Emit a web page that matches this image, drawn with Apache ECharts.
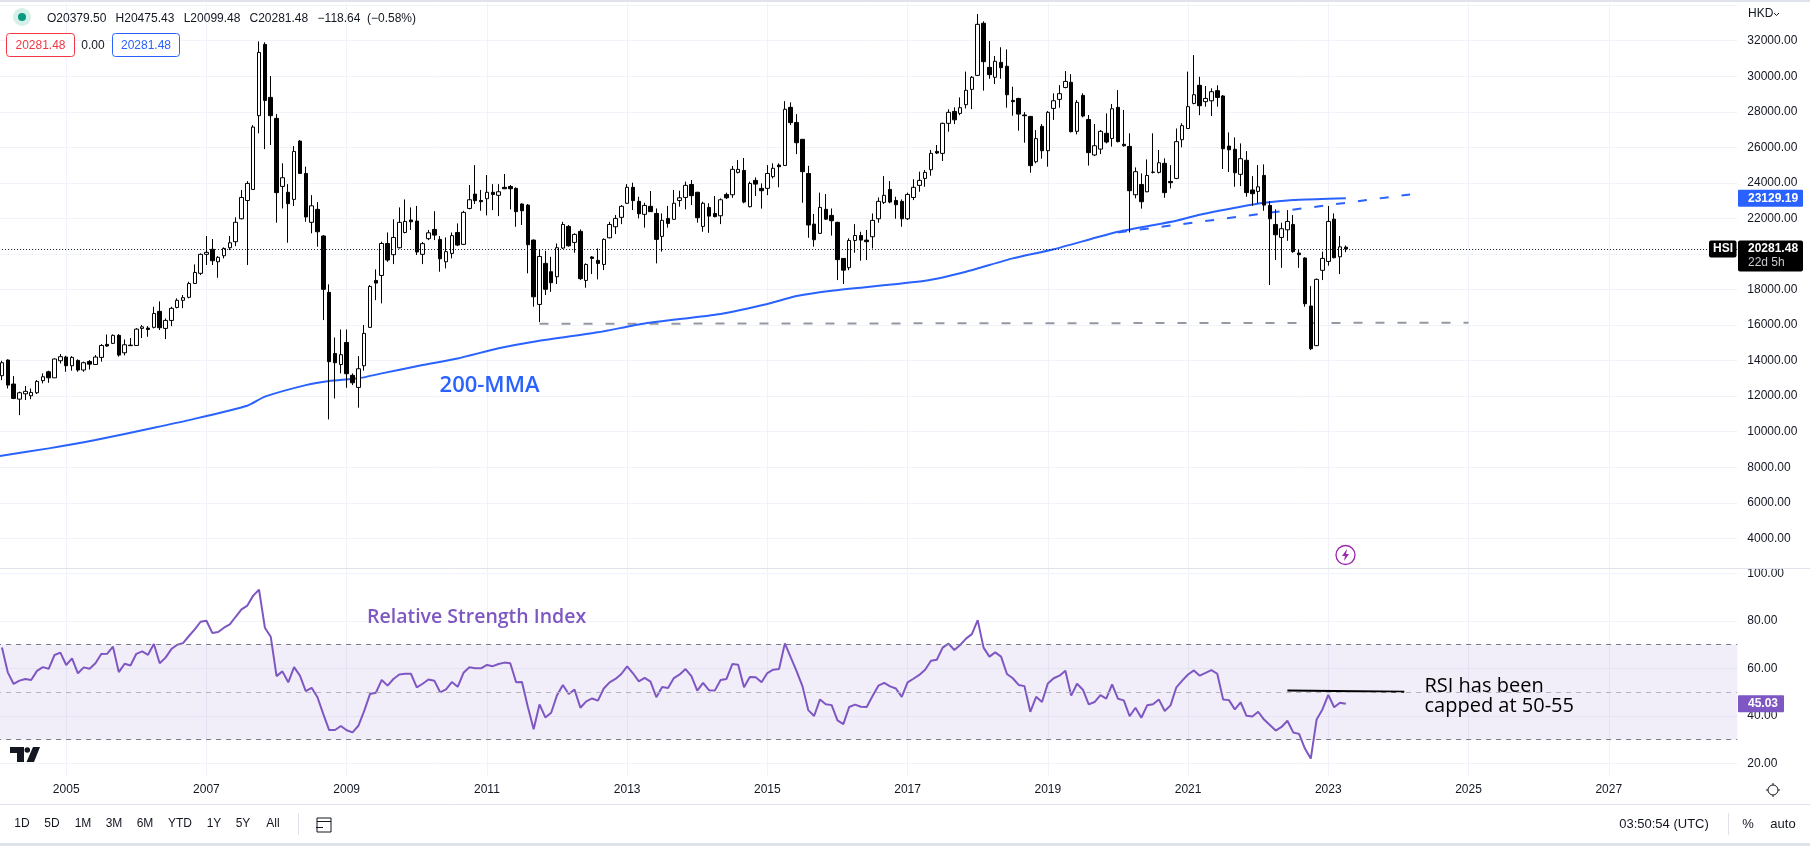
<!DOCTYPE html>
<html>
<head>
<meta charset="utf-8">
<title>HSI monthly</title>
<script src="https://cdn.jsdelivr.net/npm/echarts@6/dist/echarts.min.js"></script>
<style>
    html, body { margin: 0; padding: 0; background: #fff; }
    #main { width: 1810px; height: 846px; }
</style>
</head>
<body>
<div id="main"></div>
<script>
    // monthly candles, Feb 2004 to Apr 2023
    var opens = [
        13150,14030,12680,11830,12130,12020,12190,12870,13370,13030,
        13990,14200,13710,14010,13470,13950,13780,14180,14910,14970,
        15420,14440,14870,14850,15810,15830,15870,16770,15810,16260,
        16990,17390,17560,18340,18910,19980,20260,19560,19900,20350,
        20690,21980,23010,23630,27780,31790,28810,27630,23800,23470,
        23070,26350,24530,21780,22510,21010,17840,14400,13780,15020,
        13170,12490,13710,15870,18510,18790,20590,19960,20350,21210,
        21910,21850,19980,20860,21380,20820,19560,20030,21210,20540,
        22560,23370,23010,23110,23470,23300,23750,23800,23690,22810,
        22750,20780,17160,19470,19000,18720,20330,21550,20650,21270,
        18510,19830,19640,19410,20910,21530,22060,22850,23750,22960,
        22230,22680,22280,20990,22000,21950,23010,23180,23910,23470,
        21550,22620,22280,22150,23350,23330,24590,24700,22660,24140,
        23690,23690,24350,25000,24980,28250,27400,26450,24530,21680,
        21160,22510,22170,21780,19750,19230,20760,21040,20780,20970,
        21980,22900,23630,23010,22960,21980,23180,23860,24250,24740,
        25770,25660,27350,28020,27910,28400,29260,30050,32980,30500,
        29940,30780,30560,28640,28750,27820,27740,25190,27180,25810,
        28190,28700,29370,29660,26900,28920,27570,25570,25900,26790,
        26500,28250,26170,26050,23330,23910,23500,24590,24590,25100,
        24080,24250,26430,27060,28470,29490,28570,28620,29190,28890,
        26070,25890,24480,25270,23600,23520,24420,22730,21660,20930,
        21360,21660,20050,19770,17070,14840,19080,19580,21960,19840,
        20379.5
    ];
    var closes = [
        13880,12620,11870,12190,12270,12210,12830,13090,13030,14090,
        14220,13710,14180,13470,13880,13800,14200,14850,14820,15420,
        14310,14890,14840,15770,15900,15750,16650,15850,16260,16940,
        17390,17540,18340,18960,19980,20090,19620,19810,20310,20630,
        21780,23180,23970,27140,31340,28640,27780,23450,24290,22830,
        25770,24530,22080,22710,21250,18010,13940,13880,14330,13260,
        12750,13540,15530,18170,18360,20590,19660,20930,21780,21830,
        21810,20110,20580,21190,21060,19730,20130,21030,20500,22340,
        23050,23000,22940,23470,23350,23500,23670,23670,22380,22430,
        20520,17590,19860,18010,18380,20350,21660,20460,21100,18610,
        19410,19750,19470,20820,21660,22000,22680,23750,23000,22260,
        22730,22380,20820,21890,21720,22850,23160,23860,23280,22040,
        22850,22130,22100,23050,23160,24760,24760,22920,23970,23930,
        23560,24530,24820,24910,28140,27390,26260,24630,21630,20800,
        22620,21960,21870,19680,19090,20760,21040,20780,20690,21890,
        22960,23300,22920,22770,21980,23350,23750,24140,24590,25660,
        25680,27350,27970,27550,28230,29210,29940,32920,30820,30090,
        30840,30480,28960,28570,27870,27780,24970,26490,25810,27970,
        28620,29020,29710,26880,28530,27760,25700,26090,26900,26300,
        28170,26320,26090,23560,24630,22940,24420,24610,25130,23450,
        24010,26320,27220,28290,28960,28340,28750,29130,28810,25920,
        25860,24570,25360,23450,23390,23780,22750,21980,21080,21420,
        21830,20130,19960,17200,14670,18570,19750,21830,19790,20400,
        20281.48
    ];
    var highs = [
        13990,14070,13130,12250,12570,12430,12900,13280,13430,14120,
        14370,14270,14250,14070,13940,14030,14310,14930,15470,15470,
        15490,15190,15270,15830,16000,15940,17030,17330,16370,17030,
        17500,17690,18440,19410,20030,21010,20840,19880,20370,21010,
        22060,23600,24100,27250,31960,31910,30010,27870,25100,23930,
        26070,26410,24910,23310,22920,21060,18290,15300,15750,15750,
        13280,14250,16000,18250,19130,20690,21210,21950,22620,23070,
        22620,22700,20670,21350,22410,21010,20930,21210,21720,22430,
        23880,25000,23600,24440,23930,23930,24500,23880,23750,22850,
        22810,20820,20260,20180,19840,20590,21810,21630,21160,21380,
        19470,19880,20310,20880,21810,22190,22750,23930,24010,23220,
        22880,23540,22560,22280,22700,23600,23560,24070,24160,23500,
        22940,22850,23260,23130,23450,24950,25280,25400,24070,24310,
        23970,25000,25100,25100,28600,28530,27870,26470,24960,22250,
        23450,23370,22560,21810,19760,20880,21680,21250,21350,22280,
        23180,24380,24100,23220,23070,23450,24200,24630,24720,25850,
        26130,27390,28140,28250,28810,30260,30010,33500,33090,31980,
        31140,31630,31510,29410,28790,27980,27760,26970,27310,28040,
        29040,29500,30290,30120,28660,29040,27820,27310,26970,27910,
        28440,29220,28100,26790,24870,24530,25320,26790,25850,25380,
        25000,27060,27350,30260,31190,29970,29450,29320,29490,28940,
        26840,26560,26220,25790,24380,25000,25040,22980,22510,21760,
        22470,22190,20260,19810,18190,18620,20130,22700,22280,21010,
        20475.43
    ];
    var lows = [
        12900,12430,11830,10930,11780,11830,12120,12720,12750,13030,
        13840,13370,13430,13370,13370,13500,13750,13940,14780,14930,
        14220,14290,14830,14840,15270,15340,15810,15720,15210,15940,
        16940,16950,17500,18310,18810,19380,19380,18660,19750,20220,
        20440,21950,19380,23600,26790,25900,26130,21760,22560,20630,
        22700,24530,21810,21160,20410,16280,10690,11870,13280,12470,
        12620,11350,13430,15850,17400,17220,19560,19430,20310,21160,
        21350,19940,19430,20780,20780,19000,19190,19750,20440,20500,
        22510,22810,22430,22170,22470,22130,23650,22510,21530,21630,
        18910,17030,16170,17690,17870,18310,20280,20410,20070,18530,
        18100,18870,18570,19090,20880,21120,21680,22810,22470,22000,
        21480,22370,19470,20130,21480,21910,22660,22510,22750,21760,
        21250,21190,22060,21680,23090,23160,24530,22850,22620,23260,
        22550,23310,24250,23750,24960,27250,25620,22880,20910,20410,
        21120,21910,21030,18530,18310,19090,20070,19620,19660,20310,
        21760,22810,22850,21980,21530,21910,23030,23500,23780,24400,
        25620,25230,26880,27310,27810,28190,28150,30010,29190,29860,
        29560,29860,28230,27780,26940,26260,24570,25100,25360,24910,
        27540,28230,29320,26840,26730,27690,24970,25510,25620,26220,
        26040,26280,26040,21210,23130,22550,23470,24530,24530,23160,
        23690,24210,26000,27030,28420,27810,28290,27760,28290,24780,
        24610,23780,23820,23220,22710,22850,22430,18250,19660,19220,
        20740,20070,19220,17030,14590,14820,18530,19340,19750,18870,
        20099.48
    ];
    var rsiValues = [
        68.8,58.3,53.4,54.8,55.5,55.1,58.9,60.5,59.8,65.6,
        66.6,61.4,64.2,57.9,60.4,59.8,62.1,66.0,66.1,69.1,
        58.4,61.9,61.2,66.1,67.1,65.7,70.2,62.1,64.5,68.1,
        69.9,70.6,73.6,76.4,79.6,80.0,74.9,75.3,77.1,78.5,
        81.7,84.8,86.4,90.6,93.1,77.1,73.3,56.7,58.7,54.1,
        60.5,56.9,50.4,51.8,47.8,40.7,34.0,34.0,35.7,33.9,
        33.0,35.8,42.1,49.2,49.7,55.1,52.7,55.5,57.4,57.7,
        57.7,52.0,53.5,55.3,54.8,49.9,51.1,54.2,52.2,58.1,
        60.4,60.0,60.0,61.4,60.9,61.8,62.4,62.1,54.1,54.2,
        43.8,34.3,44.8,39.3,41.3,48.7,53.0,49.2,51.0,43.4,
        46.1,47.3,46.4,51.5,54.1,55.5,57.6,60.8,57.9,54.5,
        56.0,54.4,47.8,52.1,51.7,55.9,57.4,59.7,56.7,50.6,
        53.9,50.8,50.6,55.1,55.5,61.8,61.5,52.0,56.3,56.2,
        54.1,58.0,59.4,59.7,70.5,64.6,58.8,52.5,42.4,39.9,
        46.9,44.9,44.5,38.1,36.5,43.7,44.7,43.8,43.7,48.3,
        52.7,53.9,52.4,51.5,48.0,54.1,55.6,57.2,59.4,63.2,
        63.6,68.7,70.4,67.7,69.8,72.5,74.4,80.3,68.7,64.9,
        66.7,64.9,57.6,55.8,53.0,52.5,41.7,48.0,45.8,53.6,
        55.8,56.9,59.0,48.5,53.5,51.0,44.8,45.8,48.7,47.2,
        53.2,47.2,46.5,39.8,43.4,39.2,44.4,44.9,46.9,42.0,
        44.4,52.0,54.8,57.4,59.1,56.9,58.1,59.2,57.7,46.9,
        46.6,42.7,45.7,40.0,39.7,41.7,38.4,36.1,33.8,35.3,
        37.9,33.0,32.4,26.2,22.0,38.4,42.7,48.8,43.6,45.5,
        45.03
    ];
    // 200 month moving average, read at the points where the curve bends
    var maMonths = [
        '2004-01','2004-10','2005-06','2006-04','2006-10','2007-08','2007-11','2008-06',
        '2008-10','2009-03','2009-07','2010-02','2010-08','2011-03','2011-09','2012-08',
        '2013-04','2014-05','2015-01','2015-06','2015-12','2017-04','2017-11','2018-07',
        '2019-02','2020-01','2020-11','2021-03','2021-10','2022-02','2022-07','2023-01','2023-04'
    ];
    var maValues = [
        8600,9060,9530,10220,10650,11460,11970,12620,
        12850,13000,13280,13750,14120,14690,15060,15590,
        16090,16620,17180,17630,17930,18490,19000,19750,
        20260,21250,21870,22210,22660,22880,23030,23100,23129.19
    ];
    var supportMonths = ['2011-10', '2025-01'];
    var supportValues = [16070, 16130];
    var trendMonths = ['2020-01', '2024-03'];
    var trendValues = [21210, 23350];
    var capMonths = ['2022-06', '2024-02'];
    var capValues = [50.7, 50.1];

    var lastClose = 20281.48;
    var lastMa = 23129.19;
    var lastRsi = 45.03;

    // time axis runs Jan 2004 to Nov 2028, the empty months leave the space on the right
    var months = [];
    for (var y = 2004; y <= 2028; y++) {
        for (var m = 1; m <= 12; m++) {
            if (y == 2028 && m > 11) break;
            months.push(y + '-' + (m < 10 ? '0' + m : m));
        }
    }
    var candleRows = [['-', '-', '-', '-']];
    opens.forEach(function (o, i) {
        candleRows.push([o, closes[i], lows[i], highs[i]]);
    });
    function pairs(xs, ys) {
        return xs.map(function (x, i) { return [x, ys[i]]; });
    }
    function isYearTick(index, value) {
        return value.slice(5) == '01' && parseInt(value) % 2 == 1;
    }

    var fontName = '"Liberation Sans", Arial, sans-serif';
    var textColor = '#131722';
    var gridColor = '#f0f3fa';
    var blue = '#2962ff';
    var purple = '#7e57c2';

    var chart = echarts.init(document.getElementById('main'));
    var gridLeft = -3.9, gridWidth = 1741.2;

    chart.setOption({
        animation: false,
        backgroundColor: '#fff',
        textStyle: { fontFamily: fontName },
        grid: [
            { left: gridLeft, width: gridWidth, top: 5.16, height: 533.14, outerBoundsMode: 'none' },
            { left: gridLeft, width: gridWidth, top: 573.3, height: 190, outerBoundsMode: 'none' },
            { left: gridLeft, width: gridWidth, top: 3, height: 773, outerBoundsMode: 'none' }
        ],
        xAxis: [
            { type: 'category', gridIndex: 0, data: months, boundaryGap: false, show: false },
            { type: 'category', gridIndex: 1, data: months, boundaryGap: false, show: false },
            {
                type: 'category', gridIndex: 2, data: months, boundaryGap: false,
                axisLine: { show: false },
                axisTick: { show: false },
                axisLabel: {
                    interval: isYearTick,
                    margin: 8,
                    color: textColor,
                    fontSize: 12,
                    fontFamily: fontName,
                    formatter: function (v) { return v.slice(0, 4); }
                },
                splitLine: { show: true, interval: isYearTick, lineStyle: { color: gridColor, width: 1 } }
            }
        ],
        yAxis: [
            {
                type: 'value', gridIndex: 0, position: 'right', min: 4000, max: 34000, interval: 2000,
                axisLine: { show: false },
                axisTick: { show: false },
                splitLine: { lineStyle: { color: gridColor, width: 1 } },
                axisLabel: {
                    margin: 10, color: textColor, fontSize: 12, fontFamily: fontName,
                    formatter: function (v) { return v == 34000 ? '' : v.toFixed(2); }
                }
            },
            {
                type: 'value', gridIndex: 1, position: 'right', min: 20, max: 100, interval: 20,
                axisLine: { show: false },
                axisTick: { show: false },
                splitLine: { lineStyle: { color: gridColor, width: 1 } },
                axisLabel: {
                    margin: 10, color: textColor, fontSize: 12, fontFamily: fontName,
                    formatter: function (v) { return v.toFixed(2); }
                }
            },
            { type: 'value', gridIndex: 2, show: false }
        ],
        series: [
            {
                name: 'support', type: 'line', xAxisIndex: 0, yAxisIndex: 0, z: 2,
                data: pairs(supportMonths, supportValues),
                showSymbol: false,
                lineStyle: { color: '#9598a1', width: 2, type: [9, 13] }
            },
            {
                name: 'trend', type: 'line', xAxisIndex: 0, yAxisIndex: 0, z: 2,
                data: pairs(trendMonths, trendValues),
                showSymbol: false,
                lineStyle: { color: blue, width: 2, type: [9, 13] }
            },
            {
                name: '200-MMA', type: 'line', xAxisIndex: 0, yAxisIndex: 0, z: 2,
                data: pairs(maMonths, maValues),
                showSymbol: false,
                smooth: 0.2,
                lineStyle: { color: blue, width: 2 }
            },
            {
                name: 'HSI', type: 'candlestick', xAxisIndex: 0, yAxisIndex: 0, z: 3,
                data: candleRows,
                barWidth: 4,
                itemStyle: {
                    color: '#ffffff', color0: '#000000',
                    borderColor: '#000000', borderColor0: '#000000', borderColorDoji: '#000000',
                    borderWidth: 1
                },
                markLine: {
                    silent: true,
                    symbol: 'none',
                    label: { show: false },
                    lineStyle: { color: '#131722', type: [1, 2], width: 1 },
                    data: [{ yAxis: lastClose }]
                }
            },
            {
                name: 'RSI', type: 'line', xAxisIndex: 1, yAxisIndex: 1, z: 3,
                data: ['-'].concat(rsiValues),
                showSymbol: false,
                lineStyle: { color: purple, width: 2 },
                markArea: {
                    silent: true,
                    itemStyle: { color: 'rgba(126,87,194,0.1)' },
                    data: [[{ yAxis: 70 }, { yAxis: 30 }]]
                },
                markLine: {
                    silent: true,
                    symbol: 'none',
                    label: { show: false },
                    data: [
                        { yAxis: 70, lineStyle: { color: '#787b86', type: [5, 5], width: 1 } },
                        { yAxis: 50, lineStyle: { color: '#b2b5be', type: [5, 5], width: 1 } },
                        { yAxis: 30, lineStyle: { color: '#787b86', type: [5, 5], width: 1 } }
                    ]
                }
            },
            {
                name: 'cap', type: 'line', xAxisIndex: 1, yAxisIndex: 1, z: 4,
                data: pairs(capMonths, capValues),
                showSymbol: false,
                lineStyle: { color: '#000000', width: 2 }
            }
        ]
    });

    function label(text, x, y, fill, font, align) {
        return {
            type: 'text', z: 20,
            style: {
                text: text, x: x, y: y, fill: fill,
                font: font || ('12px ' + fontName),
                textAlign: align || 'left',
                textVerticalAlign: 'middle'
            }
        };
    }
    function box(x, y, w, h, fill, stroke, r) {
        return {
            type: 'rect', z: 19,
            shape: { x: x, y: y, width: w, height: h, r: r || 0 },
            style: { fill: fill, stroke: stroke || null, lineWidth: 1 }
        };
    }
    function hline(x1, x2, y, color) {
        return { type: 'line', z: 15, shape: { x1: x1, y1: y, x2: x2, y2: y }, style: { stroke: color, lineWidth: 1 } };
    }
    function vline(x, y1, y2, color) {
        return { type: 'line', z: 15, shape: { x1: x, y1: y1, x2: x, y2: y2 }, style: { stroke: color, lineWidth: 1 } };
    }

    var priceY = chart.convertToPixel({ yAxisIndex: 0 }, lastClose);
    var maY = chart.convertToPixel({ yAxisIndex: 0 }, lastMa);
    var rsiY = chart.convertToPixel({ yAxisIndex: 1 }, lastRsi);
    var boldFont = 'bold 12px ' + fontName;
    var border = '#e0e3eb';
    var elements = [
        box(0, 0, 1810, 2, border),
        box(0, 843, 1810, 3, border),
        hline(0, 1810, 568.5, border),
        hline(0, 1810, 804.5, border),

        // legend
        { type: 'circle', z: 18, shape: { cx: 22, cy: 17, r: 9 }, style: { fill: '#d5efe9' } },
        { type: 'circle', z: 19, shape: { cx: 22, cy: 17, r: 4 }, style: { fill: '#089981' } },
        label('O20379.50', 47, 19, textColor),
        label('H20475.43', 115.6, 19, textColor),
        label('L20099.48', 183.7, 19, textColor),
        label('C20281.48', 249.5, 19, textColor),
        label('\u2212118.64', 317.6, 19, textColor),
        label('(\u22120.58%)', 367, 19, textColor),
        box(6.5, 33.5, 68, 23, '#fff', '#f23645', 3),
        label('20281.48', 40.5, 45.5, '#f23645', null, 'center'),
        label('0.00', 93, 45.5, textColor, null, 'center'),
        box(112.5, 33.5, 67, 23, '#fff', blue, 3),
        label('20281.48', 146, 45.5, blue, null, 'center'),

        // notes drawn on the chart
        label('200-MMA', 489.5, 386, blue, '600 22px "Open Sans", sans-serif', 'center'),
        label('Relative Strength Index', 367, 617, purple, '600 19.5px "Open Sans", sans-serif'),
        label('RSI has been', 1424.5, 686, '#000000', '20px "Open Sans", sans-serif'),
        label('capped at 50-55', 1424.5, 706, '#000000', '20px "Open Sans", sans-serif'),

        // price scale tags
        label('HKD', 1748, 14, textColor),
        { type: 'polyline', z: 20, shape: { points: [[1774, 13], [1776.5, 15.5], [1779, 13]] }, style: { stroke: textColor, lineWidth: 1, fill: null } },
        box(1709, priceY - 8.5, 27.5, 17, '#000000', null, 2),
        label('HSI', 1723, priceY, '#ffffff', boldFont, 'center'),
        box(1738, priceY - 8.5, 65, 31, '#000000', null, 2),
        label('20281.48', 1748, priceY, '#ffffff', boldFont),
        label('22d 5h', 1748, priceY + 14, '#c9cbd1'),
        box(1738, maY - 8.5, 65, 17, blue, null, 1),
        label('23129.19', 1748, maY, '#ffffff', boldFont),
        box(1738, rsiY - 8.5, 46, 17, purple, null, 1),
        label('45.03', 1748, rsiY, '#ffffff', boldFont),

        // lightning badge
        { type: 'circle', z: 19, shape: { cx: 1345.5, cy: 555, r: 9.5 }, style: { fill: '#fff', stroke: '#9c27b0', lineWidth: 1.3 } },
        { type: 'polygon', z: 20, shape: { points: [[1347, 549], [1342, 556], [1345, 556], [1344, 561], [1349, 554], [1346, 554]] }, style: { fill: '#9c27b0' } },

        // logo
        { type: 'polygon', z: 20, shape: { points: [[10, 747], [24, 747], [24, 762], [17, 762], [17, 753], [10, 753]] }, style: { fill: textColor } },
        { type: 'circle', z: 20, shape: { cx: 27.3, cy: 750, r: 2.8 }, style: { fill: textColor } },
        { type: 'polygon', z: 20, shape: { points: [[33, 747], [40, 747], [34, 762], [26.5, 762]] }, style: { fill: textColor } },

        // bottom toolbar
        vline(298.5, 813, 835, border),
        { type: 'rect', z: 20, shape: { x: 317, y: 818, width: 14, height: 14 }, style: { fill: null, stroke: textColor, lineWidth: 1 } },
        hline(317, 331, 821.5, textColor),
        hline(316, 323, 827.5, textColor),
        vline(1728.5, 813, 835, border),
        label('03:50:54 (UTC)', 1664, 824, textColor, '13px ' + fontName, 'center'),
        label('%', 1748, 824, textColor, '13px ' + fontName, 'center'),
        label('auto', 1783, 824, textColor, '13px ' + fontName, 'center'),

        // sun icon beside the time axis
        { type: 'circle', z: 20, shape: { cx: 1773, cy: 790, r: 5 }, style: { fill: null, stroke: textColor, lineWidth: 1 } },
        vline(1773, 783, 785, textColor),
        vline(1773, 795, 797, textColor),
        hline(1766, 1768, 790, textColor),
        hline(1778, 1780, 790, textColor)
    ];
    var rangeLabels = ['1D', '5D', '1M', '3M', '6M', 'YTD', '1Y', '5Y', 'All'];
    var rangeCenters = [22, 52, 83, 114, 145, 180, 214, 243, 273];
    rangeLabels.forEach(function (t, i) {
        elements.push(label(t, rangeCenters[i], 824, textColor, '12px ' + fontName, 'center'));
    });
    chart.setOption({ graphic: { elements: elements } });
</script>
</body>
</html>
